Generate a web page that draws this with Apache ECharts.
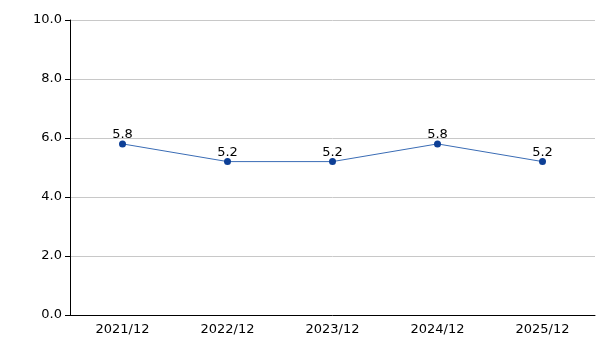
<!DOCTYPE html>
<html><head><meta charset="utf-8">
<script src="https://cdn.jsdelivr.net/npm/echarts@6/dist/echarts.min.js"></script>
<style>html,body{margin:0;padding:0;background:#fff}#c{width:615px;height:345px}</style>
</head><body><div id="c"></div>
<script>
const categories = ['2021/12','2022/12','2023/12','2024/12','2025/12'];
const values = [5.8, 5.2, 5.2, 5.8, 5.2];
const yTicks = [0, 2, 4, 6, 8, 10];

const chart = echarts.init(document.getElementById('c'), null, {renderer:'canvas'});
chart.setOption({
  animation:false,
  textStyle:{fontFamily:'DejaVu Sans'},
  grid:{left:70, right:20, top:20, bottom:30, containLabel:false},
  xAxis:{
    type:'category', data:categories, boundaryGap:true,
    axisLine:{lineStyle:{color:'#000', width:1}},
    axisTick:{alignWithLabel:true, length:5, lineStyle:{color:'#000'}},
    axisLabel:{color:'#000', fontSize:13, margin:8, fontFamily:'DejaVu Sans'},
    splitLine:{show:false}
  },
  yAxis:{
    type:'value', min:yTicks[0], max:yTicks[yTicks.length-1], interval:2,
    axisLine:{show:true, lineStyle:{color:'#000', width:1}},
    axisTick:{show:true, length:5, lineStyle:{color:'#000'}},
    axisLabel:{color:'#000', fontSize:13, margin:8, fontFamily:'DejaVu Sans', formatter:v=>v.toFixed(1)},
    splitLine:{show:true, lineStyle:{color:'#c8c8c8', width:1}}
  },
  series:[{
    type:'line', data:values,
    symbol:'circle', symbolSize:7,
    lineStyle:{color:'#3a6cb5', width:1},
    itemStyle:{color:'#0d3f96'},
    label:{show:true, position:'top', distance:-1, color:'#000', fontSize:13, fontFamily:'DejaVu Sans', formatter:p=>p.value.toFixed(1)}
  }]
});
</script></body></html>
